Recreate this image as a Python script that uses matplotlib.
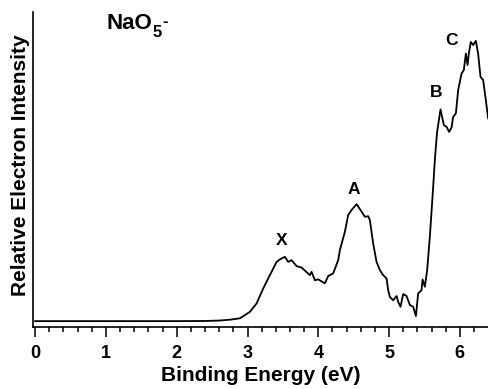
import matplotlib
matplotlib.use("Agg")
import matplotlib.pyplot as plt
from matplotlib.ticker import MultipleLocator

plt.rcParams['font.family'] = 'Liberation Sans'
plt.rcParams['font.weight'] = 'bold'

# photoelectron spectrum (eV, arbitrary intensity)
energy = [0.0, 1.0, 2.0, 2.4, 2.6, 2.75, 2.893, 3.034, 3.129, 3.222, 3.316, 3.411,
          3.458, 3.528, 3.575, 3.623, 3.694, 3.764, 3.881, 3.905, 3.952, 3.999,
          4.093, 4.140, 4.210, 4.281, 4.305, 4.376, 4.422, 4.470, 4.541, 4.612,
          4.658, 4.705, 4.729, 4.775, 4.823, 4.870, 4.917, 4.965, 4.987, 5.011,
          5.058, 5.106, 5.129, 5.162, 5.199, 5.247, 5.294, 5.340, 5.379, 5.411,
          5.459, 5.473, 5.506, 5.538, 5.576, 5.614, 5.647, 5.661, 5.679, 5.727,
          5.774, 5.812, 5.849, 5.883, 5.905, 5.944, 5.976, 6.024, 6.056, 6.085,
          6.109, 6.127, 6.155, 6.188, 6.226, 6.258, 6.292, 6.329, 6.367, 6.400]
intensity = [0.0, 0.0, 0.0, 0.05, 0.2, 0.5, 1.0, 3.3, 6.3, 11.6, 16.3, 21.0,
             21.9, 22.8, 21.0, 21.6, 19.5, 19.0, 16.3, 17.5, 14.5, 14.8,
             13.4, 16.0, 16.9, 21.6, 25.2, 31.7, 37.6, 39.4, 41.5, 38.8,
             37.0, 37.2, 35.8, 27.6, 21.0, 18.1, 16.3, 15.1, 11.0, 8.6,
             7.4, 8.9, 6.8, 5.1, 9.6, 8.9, 5.7, 5.1, 1.8, 9.8,
             11.0, 14.8, 12.2, 18.1, 29.9, 44.1, 57.1, 61.8, 67.1, 75.1,
             69.5, 68.9, 67.1, 68.7, 72.4, 73.7, 81.9, 87.8, 89.0, 94.9,
             90.8, 94.9, 99.0, 97.9, 99.4, 94.9, 86.6, 85.5, 78.4, 71.9]

peak_names = ["X", "A", "B", "C"]
peak_e = [3.48, 4.50, 5.67, 5.88]
peak_i = [28.7, 46.5, 80.9, 99.4]

fig = plt.figure(figsize=(4.88, 3.89), dpi=100)
ax = fig.add_axes([0.0676, 0.160, 0.932, 0.809])

ax.plot(energy, intensity, color="black", lw=1.3)

for name, e, i in zip(peak_names, peak_e, peak_i):
    ax.text(e, i, name, ha="center", va="center", fontsize=12.5, fontweight="bold")

# species label: NaO, subscript 5, superscript minus
t_nao = ax.text(1.01, 103.5, "NaO", ha="left", va="baseline", fontsize=16,
                fontweight="bold")
t_5 = ax.annotate("5", xy=(1, 0), xycoords=t_nao, xytext=(0.3, -1.7),
                  textcoords="offset points", ha="left", va="baseline",
                  fontsize=12, fontweight="bold")
ax.annotate("-", xy=(1, 1), xycoords=t_5, xytext=(0, -0.9),
            textcoords="offset points", ha="left", va="baseline",
            fontsize=12, fontweight="bold")

ax.set_xlim(-0.031, 6.395)
ax.set_ylim(-2.0, 109.6)

ax.spines["top"].set_visible(False)
ax.spines["right"].set_visible(False)
ax.spines["left"].set_linewidth(1.2)
ax.spines["bottom"].set_linewidth(1.2)

ax.xaxis.set_major_locator(MultipleLocator(1))
ax.xaxis.set_minor_locator(MultipleLocator(0.2))
ax.tick_params(axis="x", which="major", length=7, width=1.1, direction="out",
               labelsize=13, pad=6)
ax.tick_params(axis="x", which="minor", length=3.5, width=1.1, direction="out")
ax.set_yticks([])

ax.set_xlabel("Binding Energy (eV)", fontsize=15, fontweight="bold", labelpad=3)
ax.set_ylabel("Relative Electron Intensity", fontsize=15, fontweight="bold")
ax.yaxis.set_label_coords(-0.006, 0.514)

fig.savefig("out.png", dpi=100)
